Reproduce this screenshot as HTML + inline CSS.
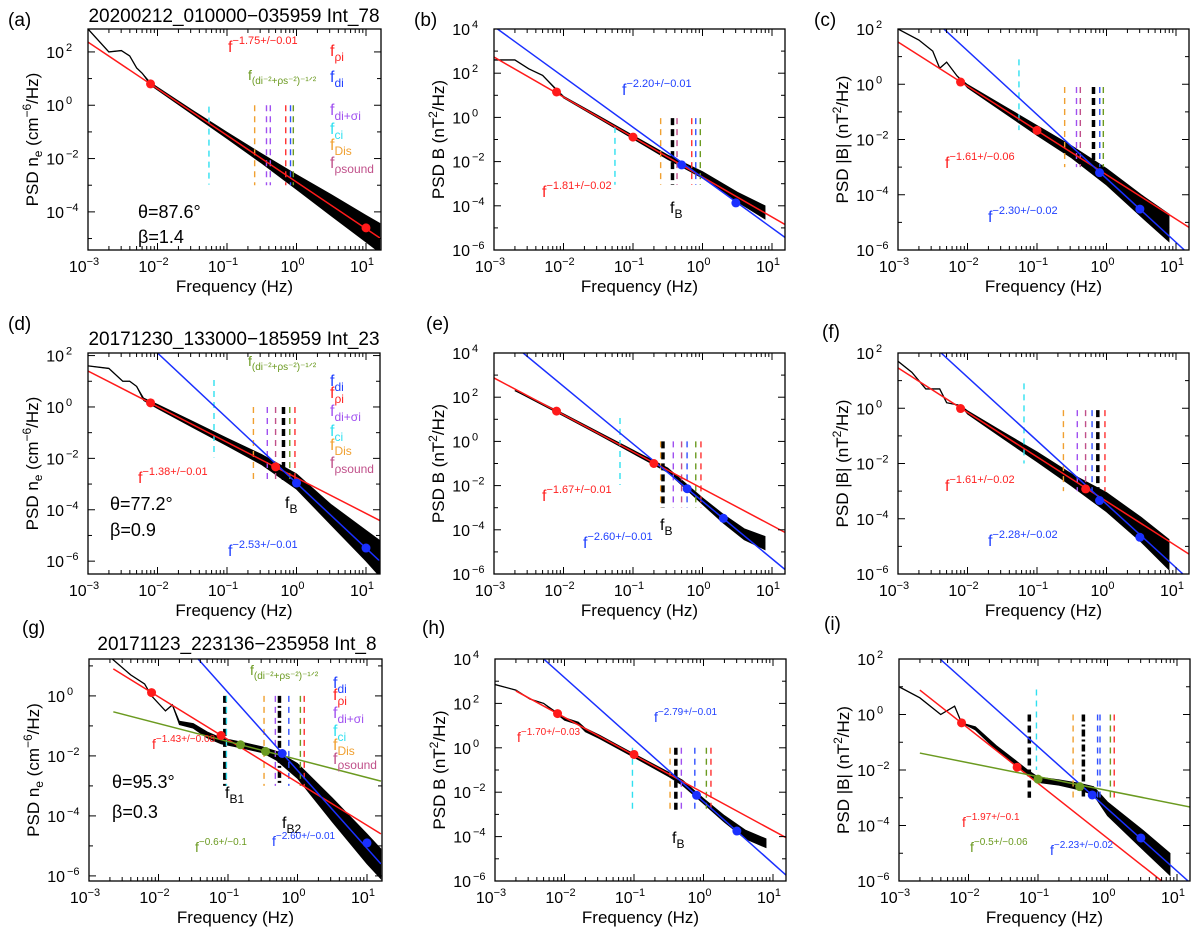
<!DOCTYPE html>
<html><head><meta charset="utf-8"><style>
html,body{margin:0;padding:0;background:#fff;}
svg{display:block;font-family:"Liberation Sans",sans-serif;}
</style></head><body>
<svg id="fig" width="1200" height="930" viewBox="0 0 1200 930" xmlns="http://www.w3.org/2000/svg">
<rect width="1200" height="930" fill="#fff"/>
<g id="marks"></g>
<g id="static" font-family="Liberation Sans, sans-serif">
<text x="8" y="26" font-size="19">(a)</text>
<text x="414" y="26" font-size="19">(b)</text>
<text x="814" y="26" font-size="19">(c)</text>
<text x="8" y="330" font-size="19">(d)</text>
<text x="426" y="330" font-size="19">(e)</text>
<text x="822" y="338" font-size="19">(f)</text>
<text x="22" y="634" font-size="19">(g)</text>
<text x="422" y="634" font-size="19">(h)</text>
<text x="824" y="630" font-size="19">(i)</text>
<text x="234" y="22" font-size="19" text-anchor="middle">20200212_010000−035959 Int_78</text>
<text x="234" y="345" font-size="19" text-anchor="middle">20171230_133000−185959 Int_23</text>
<text x="237" y="650" font-size="19" text-anchor="middle">20171123_223136−235958 Int_8</text>

<g>
<text x="228" y="52" fill="#ff2020" font-size="16">f<tspan dy="-8" font-size="11">−1.75+/−0.01</tspan></text>
<text x="330" y="56" fill="#ff2020" font-size="16">f<tspan dy="5" font-size="12">ρi</tspan></text>
<text x="248" y="80" fill="#6b9a20" font-size="14">f<tspan dy="4" font-size="10">(di⁻²+ρs⁻²)⁻¹ᐟ²</tspan></text>
<text x="330" y="82" fill="#2040ff" font-size="16">f<tspan dy="5" font-size="12">di</tspan></text>
<text x="330" y="115" fill="#a050f0" font-size="16">f<tspan dy="5" font-size="12">di+σi</tspan></text>
<text x="330" y="134" fill="#30e0f0" font-size="16">f<tspan dy="5" font-size="12">ci</tspan></text>
<text x="330" y="150" fill="#f0a030" font-size="16">f<tspan dy="5" font-size="12">Dis</tspan></text>
<text x="330" y="168" fill="#c0508a" font-size="16">f<tspan dy="5" font-size="12">ρsound</tspan></text>
<text x="138" y="218" font-size="18">θ=87.6°</text>
<text x="138" y="243" font-size="18">β=1.4</text>
</g>
<g>
<text x="622" y="95" fill="#2040ff" font-size="16">f<tspan dy="-8" font-size="11">−2.20+/−0.01</tspan></text>
<text x="542" y="197" fill="#ff2020" font-size="16">f<tspan dy="-8" font-size="11">−1.81+/−0.02</tspan></text>
<text x="670" y="213" font-size="16">f<tspan dy="5" font-size="12">B</tspan></text>
</g>
<g>
<text x="945" y="168" fill="#ff2020" font-size="16">f<tspan dy="-8" font-size="11">−1.61+/−0.06</tspan></text>
<text x="988" y="222" fill="#2040ff" font-size="16">f<tspan dy="-8" font-size="11">−2.30+/−0.02</tspan></text>
</g>
<g>
<text x="248" y="366" fill="#6b9a20" font-size="14">f<tspan dy="4" font-size="10">(di⁻²+ρs⁻²)⁻¹ᐟ²</tspan></text>
<text x="330" y="386" fill="#2040ff" font-size="16">f<tspan dy="5" font-size="12">di</tspan></text>
<text x="330" y="398" fill="#ff2020" font-size="16">f<tspan dy="5" font-size="12">ρi</tspan></text>
<text x="330" y="416" fill="#a050f0" font-size="16">f<tspan dy="5" font-size="12">di+σi</tspan></text>
<text x="330" y="436" fill="#30e0f0" font-size="16">f<tspan dy="5" font-size="12">ci</tspan></text>
<text x="330" y="450" fill="#f0a030" font-size="16">f<tspan dy="5" font-size="12">Dis</tspan></text>
<text x="330" y="468" fill="#c0508a" font-size="16">f<tspan dy="5" font-size="12">ρsound</tspan></text>
<text x="138" y="483" fill="#ff2020" font-size="16">f<tspan dy="-8" font-size="11">−1.38+/−0.01</tspan></text>
<text x="110" y="510" font-size="18">θ=77.2°</text>
<text x="110" y="536" font-size="18">β=0.9</text>
<text x="285" y="508" font-size="16">f<tspan dy="5" font-size="12">B</tspan></text>
<text x="228" y="556" fill="#2040ff" font-size="16">f<tspan dy="-8" font-size="11">−2.53+/−0.01</tspan></text>
</g>
<g>
<text x="542" y="501" fill="#ff2020" font-size="16">f<tspan dy="-8" font-size="11">−1.67+/−0.01</tspan></text>
<text x="583" y="548" fill="#2040ff" font-size="16">f<tspan dy="-8" font-size="11">−2.60+/−0.01</tspan></text>
<text x="660" y="530" font-size="16">f<tspan dy="5" font-size="12">B</tspan></text>
</g>
<g>
<text x="945" y="491" fill="#ff2020" font-size="16">f<tspan dy="-8" font-size="11">−1.61+/−0.02</tspan></text>
<text x="988" y="546" fill="#2040ff" font-size="16">f<tspan dy="-8" font-size="11">−2.28+/−0.02</tspan></text>
</g>
<g>
<text x="250" y="675" fill="#6b9a20" font-size="14">f<tspan dy="4" font-size="10">(di⁻²+ρs⁻²)⁻¹ᐟ²</tspan></text>
<text x="333" y="688" fill="#2040ff" font-size="16">f<tspan dy="5" font-size="12">di</tspan></text>
<text x="333" y="700" fill="#ff2020" font-size="16">f<tspan dy="5" font-size="12">ρi</tspan></text>
<text x="333" y="718" fill="#a050f0" font-size="16">f<tspan dy="5" font-size="12">di+σi</tspan></text>
<text x="333" y="736" fill="#30e0f0" font-size="16">f<tspan dy="5" font-size="12">ci</tspan></text>
<text x="333" y="750" fill="#f0a030" font-size="16">f<tspan dy="5" font-size="12">Dis</tspan></text>
<text x="333" y="764" fill="#c0508a" font-size="16">f<tspan dy="5" font-size="12">ρsound</tspan></text>
<text x="152" y="749" fill="#ff2020" font-size="14">f<tspan dy="-7" font-size="10">−1.43+/−0.08</tspan></text>
<text x="112" y="788" font-size="18">θ=95.3°</text>
<text x="112" y="818" font-size="18">β=0.3</text>
<text x="225" y="798" font-size="16">f<tspan dy="5" font-size="12">B1</tspan></text>
<text x="282" y="828" font-size="16">f<tspan dy="5" font-size="12">B2</tspan></text>
<text x="195" y="852" fill="#6b9a20" font-size="14">f<tspan dy="-7" font-size="10">−0.6+/−0.1</tspan></text>
<text x="272" y="846" fill="#2040ff" font-size="14">f<tspan dy="-7" font-size="10">−2.60+/−0.01</tspan></text>
</g>
<g>
<text x="517" y="742" fill="#ff2020" font-size="14">f<tspan dy="-7" font-size="10">−1.70+/−0.03</tspan></text>
<text x="654" y="722" fill="#2040ff" font-size="14">f<tspan dy="-7" font-size="10">−2.79+/−0.01</tspan></text>
<text x="672" y="843" font-size="16">f<tspan dy="5" font-size="12">B</tspan></text>
</g>
<g>
<text x="962" y="827" fill="#ff2020" font-size="14">f<tspan dy="-7" font-size="10">−1.97+/−0.1</tspan></text>
<text x="970" y="852" fill="#6b9a20" font-size="14">f<tspan dy="-7" font-size="10">−0.5+/−0.06</tspan></text>
<text x="1050" y="855" fill="#2040ff" font-size="14">f<tspan dy="-7" font-size="10">−2.23+/−0.02</tspan></text>
</g>
</g>
</svg>
<script>
// ---- data (log10 frequency / log10 PSD) ----
const panelIds = ['a','b','c','d','e','f','g','h','i'];
const xTickLabels = [-3,-2,-1,0,1];
const yTickLabels = [[2,0,-2,-4],[4,2,0,-2,-4,-6],[2,0,-2,-4,-6],[2,0,-2,-4,-6],[4,2,0,-2,-4,-6],[2,0,-2,-4,-6],[0,-2,-4,-6],[4,2,0,-2,-4,-6],[2,0,-2,-4,-6]];
const specF = [
 [-3,-2.7,-2.52,-2.4,-2.3,-2.22,-2.1,-1.5,-1,-0.5,0,0.5,1,1.2],
 [-3,-2.7,-2.5,-2.3,-2,-1.5,-1,-0.5,0,0.5,0.9],
 [-3,-2.7,-2.5,-2.4,-2.3,-2.15,-2,-1.5,-1,-0.5,0,0.5,0.9],
 [-3,-2.7,-2.5,-2.4,-2.3,-2.2,-2,-1.5,-1,-0.5,0,0.5,1,1.2],
 [-2.7,-2.5,-2,-1.5,-1,-0.5,0,0.3,0.6,0.9],
 [-3,-2.8,-2.6,-2.4,-2.3,-2.1,-2,-1.5,-1,-0.5,0,0.5,0.9],
 [-2.7,-2.4,-2.2,-2.1,-1.9,-1.8,-1.7,-1.5,-1.3,-1.1,-0.8,-0.5,-0.3,0,0.5,1,1.2],
 [-3,-2.7,-2.5,-2.3,-2.0,-1.8,-1.7,-1.5,-1,-0.5,-0.3,0,0.3,0.6,0.9],
 [-3,-2.7,-2.4,-2.2,-2.1,-1.9,-1.6,-1.3,-1.15,-1,-0.7,-0.4,-0.2,0,0.5,0.9]
];
const specP = [
 [2.86,2.0,2.05,1.85,1.4,1.2,0.8,-0.26,-1.13,-2.0,-2.88,-3.75,-4.63,-4.98],
 [2.6,2.6,2.2,1.9,0.92,0.02,-0.89,-1.8,-2.6,-3.6,-4.3],
 [2.0,1.6,1.2,0.58,0.8,0.3,-0.07,-0.87,-1.67,-2.45,-3.35,-4.4,-5.2],
 [1.6,1.5,1.0,1.0,0.8,0.3,0.02,-0.67,-1.36,-2.05,-2.9,-4.2,-5.4,-5.9],
 [2.3,2.0,1.2,0.37,-0.47,-1.3,-2.7,-3.5,-4.2,-4.6],
 [1.7,1.3,0.7,0.7,0.2,0.1,-0.15,-0.96,-1.76,-2.6,-3.4,-4.4,-5.3],
 [1.3,0.7,0.4,0.0,-0.5,-0.3,-0.9,-1.0,-1.3,-1.5,-1.64,-1.8,-2.0,-2.5,-3.8,-5.1,-5.6],
 [2.85,2.6,2.2,2.0,1.3,1.1,0.8,0.5,-0.35,-1.2,-1.58,-2.4,-3.2,-3.9,-4.3],
 [1.0,0.6,0.0,0.3,-0.3,-0.5,-1.2,-1.8,-2.1,-2.35,-2.45,-2.6,-2.75,-3.4,-4.5,-5.4]
];
const specW = [
 [0,0,0,0,0,0,0.05,0.08,0.12,0.18,0.28,0.4,0.5,0.55],
 [0,0,0,0,0.04,0.06,0.08,0.1,0.15,0.22,0.3],
 [0,0,0,0,0,0,0.06,0.12,0.18,0.22,0.3,0.4,0.5],
 [0,0,0,0,0,0.05,0.08,0.12,0.15,0.2,0.3,0.4,0.6,0.7],
 [0,0.03,0.05,0.06,0.08,0.1,0.15,0.2,0.25,0.3],
 [0,0,0,0,0,0,0.06,0.12,0.18,0.22,0.35,0.45,0.55],
 [0,0,0,0,0,0,0.06,0.08,0.1,0.1,0.1,0.1,0.15,0.25,0.4,0.5,0.5],
 [0,0,0,0,0.06,0.06,0.08,0.08,0.08,0.1,0.12,0.12,0.15,0.2,0.2],
 [0,0,0,0,0,0.06,0.08,0.1,0.1,0.1,0.1,0.12,0.15,0.25,0.35,0.4]
];
const fitRed = [[-3,2.37,1.2,-4.98],[-3,2.73,1.2,-4.87],[-3,1.53,1.2,-5.2],[-3,1.4,1.2,-4.42],[-3,2.87,1.2,-4.14],[-3,1.46,1.2,-5.3],[-2.65,0.9,1.2,-4.6],[-2.7,2.56,1.2,-4.07],[-2.7,0.88,0.78,-6]];
const fitBlue = [null,[-2.95,4.0,1.2,-5.46],[-2.34,2,1.12,-6],[-2.0,2.1,1.2,-6.0],[-2.58,4,1.2,-5.83],[-2.38,2,1.1,-6],[-1.43,1.23,1.2,-5.6],[-2.3,4,1.2,-5.77],[-2.41,2,1.16,-6]];
const fitGreen = [null,null,null,null,null,null,[-2.65,-0.53,1.2,-2.84],null,[-2.7,-1.39,1.2,-3.34]];
const dotsRed = [[[-2.1,0.8],[1,-4.6]],[[-2.1,1.15],[-1,-0.89]],[[-2.1,0.08],[-1,-1.67]],[[-2.1,0.16],[-0.3,-2.33]],[[-2.1,1.37],[-0.7,-1.0]],[[-2.1,-0.01],[-0.3,-2.92]],[[-2.1,0.11],[-1.1,-1.32]],[[-2.1,1.54],[-1,-0.3]],[[-2.1,-0.3],[-1.3,-1.9]]];
const dotsBlue = [[],[[-0.3,-2.15],[0.48,-3.87]],[[-0.1,-3.2],[0.48,-4.52]],[[0,-2.96],[1,-5.49]],[[-0.22,-2.14],[0.3,-3.48]],[[-0.1,-3.34],[0.48,-4.67]],[[-0.22,-1.92],[1,-4.9]],[[-0.1,-2.14],[0.48,-3.75]],[[-0.22,-2.9],[0.48,-4.45]]];
const dotsGreen = [[],[],[],[],[],[],[[-0.82,-1.63],[-0.46,-1.85]],[],[[-1,-2.33],[-0.4,-2.6]]];
const vlineF = [
 [0.055,0.25,0.37,0.42,0.7,0.82,0.9],
 [0.055,0.25,0.37,0.43,0.7,0.8,0.93],
 [0.055,0.25,0.37,0.42,0.65,0.8,0.9],
 [0.065,0.24,0.38,0.5,0.65,0.8,0.95],
 [0.065,0.25,0.27,0.38,0.5,0.6,0.8,0.95],
 [0.065,0.24,0.38,0.5,0.62,0.75,0.95],
 [0.09,0.095,0.33,0.48,0.55,0.75,1.1,1.25],
 [0.095,0.33,0.4,0.48,0.75,1.1,1.28],
 [0.075,0.095,0.32,0.45,0.72,0.78,1.1,1.25]
];
const vlineC = [
 ['cy','or','pu','pu','rd','bl','gr'],
 ['cy','or','bk','ps','rd','bl','gr'],
 ['cy','or','pu','ps','bk','bl','gr'],
 ['cy','or','pu','ps','bk','gr','rd'],
 ['cy','or','bk','pu','ps','bl','gr','rd'],
 ['cy','or','pu','ps','bl','bk','rd'],
 ['bk','cy','or','pu','bd','bl','gr','rd'],
 ['cy','or','bk','pu','bl','gr','rd'],
 ['bk','cy','or','bd','bl','bl','gr','rd']
];
const vlineTop = [[-0.05,0,0,0,0,0,0],[-0.43,-0.03,-0.03,-0.03,-0.03,-0.03,-0.03],[0.9,-0.1,-0.1,-0.1,-0.1,-0.1,-0.1],[1.05,0,0,0,0,0,0],[1.06,0,0,0,0,0,0,0],[0.9,-0.07,-0.07,-0.07,-0.07,-0.07,-0.07],[0,0,0,0,0,0,0,0],[0,0,0,0,0,0,0],[0,0.9,0,0,0,0,0,0]];
const vlineBot = [[-2.98,-3,-3,-3,-3,-3,-3],[-3.05,-3.05,-3.05,-3.05,-3.05,-3.05,-3.05],[-1.66,-3,-3,-3,-3,-3,-3],[-1.96,-3,-3,-3,-3,-3,-3],[-1.97,-3,-3,-3,-3,-3,-3,-3],[-2.0,-3,-3,-3,-3,-3,-3],[-3,-3,-3,-3,-3,-3,-3,-3],[-2.9,-2.9,-2.9,-2.9,-2.9,-2.9,-2.9],[-3,-2,-3,-3,-3,-3,-3,-3]];

// ---- layout (pixels) ----
const layout = [
 {x0:88,y0:29,w:293,h:221,ymax:2.86,ymin:-5.43},
 {x0:494,y0:29,w:291,h:221,ymax:4,ymin:-6},
 {x0:898,y0:29,w:291,h:221,ymax:2,ymin:-6},
 {x0:88,y0:353,w:292,h:221,ymax:2.1,ymin:-6.5},
 {x0:494,y0:353,w:291,h:221,ymax:4,ymin:-6},
 {x0:898,y0:353,w:291,h:221,ymax:2,ymin:-6},
 {x0:89,y0:659,w:293,h:222,ymax:1.23,ymin:-6.17},
 {x0:495,y0:659,w:291,h:222,ymax:4,ymin:-6},
 {x0:899,y0:659,w:291,h:222,ymax:2,ymin:-6}
];
const COL = {cy:'#30e0f0',or:'#f0a030',pu:'#a050f0',ps:'#c0508a',rd:'#ff3030',bl:'#3050ff',gr:'#6b9a20',bk:'#000',bd:'#000'};
const NS='http://www.w3.org/2000/svg';
const root=document.getElementById('marks');
function mk(tag,attrs,parent){const e=document.createElementNS(NS,tag);for(const k in attrs)e.setAttribute(k,attrs[k]);(parent||root).appendChild(e);return e;}

panelIds.forEach((pid,i)=>{
  const L=layout[i];
  const ppd=69.5;
  const X=lf=>L.x0+(lf+3)*ppd;
  const Y=lp=>L.y0+(L.ymax-lp)*L.h/(L.ymax-L.ymin);
  const g=mk('g',{});
  
  
  const cid='clip'+pid;
  const cp=mk('clipPath',{id:cid},g);
  mk('rect',{x:L.x0,y:L.y0,width:L.w,height:L.h},cp);
  const plot=mk('g',{'clip-path':'url(#'+cid+')'},g);

  const F=specF[i],P=specP[i],W=specW[i];
  let up=[],dn=[];
  for(let k=0;k<F.length;k++){up.push(X(F[k])+','+Y(P[k]+W[k]));dn.unshift(X(F[k])+','+Y(P[k]-W[k]));}
  const band=mk('polygon',{points:up.concat(dn).join(' '),fill:'#000',stroke:'#000','stroke-width':0.8},plot);
  
  
  const line=mk('polyline',{points:F.map((f,k)=>X(f)+','+Y(P[k])).join(' '),fill:'none',stroke:'#000','stroke-width':1.3},plot);
  
  

  vlineF[i].forEach((f,k)=>{
    const c=vlineC[i][k];const x=X(Math.log10(f));
    const thick=(c==='bk'||c==='bd');
    const v=mk('line',{x1:x,x2:x,y1:Y(vlineTop[i][k]),y2:Y(vlineBot[i][k]),stroke:COL[c],'stroke-width':thick?3.5:1.4,'stroke-dasharray':c==='bd'?'7,3,2,3':(thick?'7,4':'6,5')},plot);
    
    
  });

  [[fitRed[i],'#ff1a1a','fit-red'],[fitBlue[i],'#1a30ff','fit-blue'],[fitGreen[i],'#6b9a20','fit-green']].forEach(([ft,c,n])=>{
    if(!ft)return;
    const l=mk('line',{x1:X(ft[0]),y1:Y(ft[1]),x2:X(ft[2]),y2:Y(ft[3]),stroke:c,'stroke-width':1.5},plot);
    
    
  });
  [[dotsRed[i],'#ff1a1a','fit-point-red'],[dotsBlue[i],'#1a30ff','fit-point-blue'],[dotsGreen[i],'#6b9a20','fit-point-green']].forEach(([ds,c,n])=>{
    ds.forEach(d=>{
      const cc=mk('circle',{cx:X(d[0]),cy:Y(d[1]),r:4.5,fill:c},plot);
      
      
    });
  });

  const fr=mk('rect',{x:L.x0,y:L.y0,width:L.w,height:L.h,fill:'none',stroke:'#000','stroke-width':1.3},g);
  
  
  const xmax=-3+L.w/ppd;
  for(let d=-3;d<=1;d++){
    for(let m=1;m<=9;m++){
      const lf=d+Math.log10(m); if(lf>xmax)break;
      const x=X(lf),len=m===1?7:4;
      mk('line',{x1:x,x2:x,y1:L.y0+L.h,y2:L.y0+L.h-len,stroke:'#000','stroke-width':1},g);
      mk('line',{x1:x,x2:x,y1:L.y0,y2:L.y0+len,stroke:'#000','stroke-width':1},g);
    }
  }
  xTickLabels.forEach(d=>{
    const t=mk('text',{x:X(d)-4,y:L.y0+L.h+22,'font-size':16,'text-anchor':'middle'},g);
    
    
    t.textContent='10';
    const s=mk('tspan',{dy:-7,'font-size':11},t);s.textContent=d<0?'−'+(-d):String(d);
  });
  for(let d=Math.ceil(L.ymin);d<=Math.floor(L.ymax);d++){
    const y=Y(d),len=(d%2===0)?7:4;
    mk('line',{x1:L.x0,x2:L.x0+len,y1:y,y2:y,stroke:'#000','stroke-width':1},g);
    mk('line',{x1:L.x0+L.w,x2:L.x0+L.w-len,y1:y,y2:y,stroke:'#000','stroke-width':1},g);
  }
  yTickLabels[i].forEach(d=>{
    const t=mk('text',{x:L.x0-24,y:Y(d)+6,'font-size':16,'text-anchor':'end'},g);
    
    
    t.textContent='10';
    const s=mk('tspan',{dy:-7,'font-size':11,x:L.x0-22,'text-anchor':'start'},t);s.textContent=d<0?'−'+(-d):String(d);
  });
  const xt=mk('text',{x:L.x0+L.w/2,y:L.y0+L.h+42,'font-size':17,'text-anchor':'middle'},g);
  
  
  xt.textContent='Frequency (Hz)';
  const col=i%3;
  const yx=L.x0-50, yc=L.y0+L.h/2;
  const yt=mk('text',{x:yx,y:yc,'font-size':17,'text-anchor':'middle',transform:'rotate(-90 '+yx+' '+yc+')'},g);
  
  
  if(col===0){
    yt.appendChild(document.createTextNode('PSD n'));
    const s1=mk('tspan',{dy:4,'font-size':12},yt);s1.textContent='e';
    const s2=mk('tspan',{dy:-4},yt);s2.textContent=' (cm';
    const s3=mk('tspan',{dy:-7,'font-size':12},yt);s3.textContent='−6';
    const s4=mk('tspan',{dy:7},yt);s4.textContent='/Hz)';
  } else {
    yt.appendChild(document.createTextNode(col===1?'PSD B (nT':'PSD |B| (nT'));
    const s3=mk('tspan',{dy:-7,'font-size':12},yt);s3.textContent='2';
    const s4=mk('tspan',{dy:7},yt);s4.textContent='/Hz)';
  }
});
</script>
</body></html>
